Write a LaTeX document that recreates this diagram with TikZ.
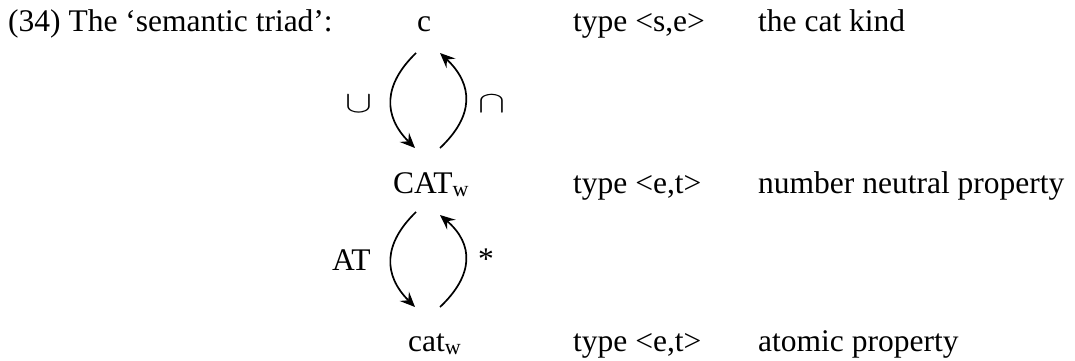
\documentclass[tikz,border=0pt]{standalone}
\usepackage{fontspec}
\setmainfont{Liberation Serif}
\usetikzlibrary{arrows.meta}
\begin{document}
\begin{tikzpicture}[x=1pt,y=-1pt,
  txt/.style={inner sep=0pt,font=\fontsize{31.5}{38}\selectfont},
  arr/.style={line width=1.7pt,-{Stealth[length=15pt,width=13pt,inset=5.5pt]}}]
\useasboundingbox (0,0) rectangle (1075,361);
% texts
\node[txt,anchor=base west] (ex) at (8,32) {(34) The ‘semantic triad’:};
\node[txt,anchor=base] (c) at (424,32) {c};
\node[txt,anchor=base west] (CAT) at (393,193) {CAT\textsubscript{w}};
\node[txt,anchor=base west] (cat) at (408,351) {cat\textsubscript{w}};
\node[txt,anchor=base west] (t1) at (573,32) {type <s,e>};
\node[txt,anchor=base west] (t2) at (573,193) {type <e,t>};
\node[txt,anchor=base west] (t3) at (573,351) {type <e,t>};
\node[txt,anchor=base west] (d1) at (758,32) {the cat kind};
\node[txt,anchor=base west] (d2) at (758,193) {number neutral property};
\node[txt,anchor=base west] (d3) at (758,351) {atomic property};
% labels
\node[txt] (cup) at (359,104) {\resizebox{27pt}{17pt}{$\cup$}};
\node[txt] (cap) at (492,104) {\resizebox{27pt}{17pt}{$\cap$}};
\node[txt,anchor=base west] (AT) at (332,270) {AT};
\node[txt] (star) at (486,259) {*};
% arrow ends
\coordinate (a1) at (416,53);
\coordinate (a2) at (415,148);
\coordinate (b1) at (440,148);
\coordinate (b2) at (440,53);
\coordinate (a3) at (416,212);
\coordinate (a4) at (415,307);
\coordinate (b3) at (440,307);
\coordinate (b4) at (440,215);
\draw[arr] (a1) .. controls (383,85) and (383,116) .. (a2);
\draw[arr] (b1) .. controls (474,116) and (474,85) .. (b2);
\draw[arr] (a3) .. controls (383,244) and (383,275) .. (a4);
\draw[arr] (b3) .. controls (474,275) and (474,244) .. (b4);
\end{tikzpicture}
\end{document}
